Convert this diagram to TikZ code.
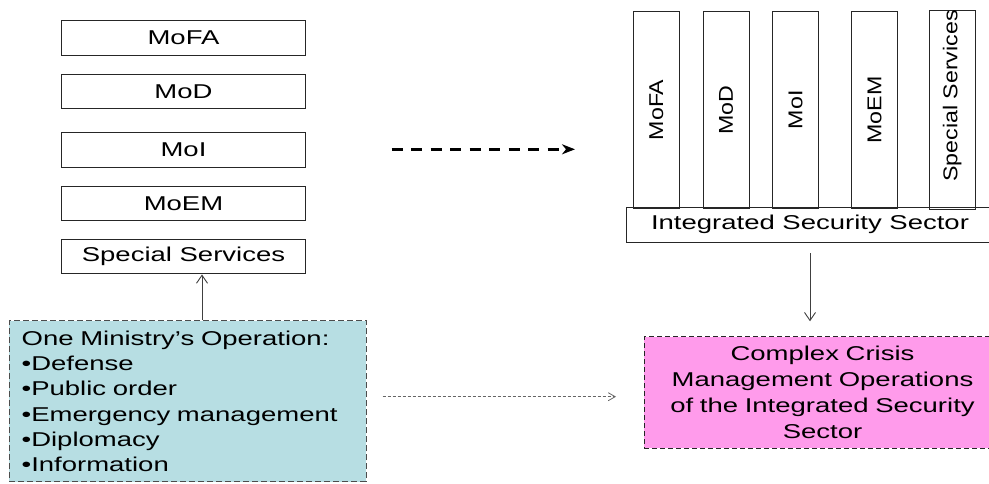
\documentclass[tikz,border=0pt]{standalone}
\usepackage{fontspec}
\setmainfont{Liberation Sans}[FakeStretch=1.375]
\newfontfamily\rotfont{Liberation Sans}[FakeStretch=1.16]
\usetikzlibrary{arrows.meta}
\definecolor{tealfill}{RGB}{183,222,227}
\definecolor{pinkfill}{RGB}{255,155,235}
\tikzset{
  minbox/.style={draw=black!85, line width=1pt, minimum width=243.5pt, minimum height=34.5pt, inner sep=0pt, font=\fontsize{20}{24}\selectfont},
  colbox/.style={draw=black!85, line width=1pt, rotate=90, minimum width=196.3pt, minimum height=46pt, inner sep=0pt, font=\rotfont\fontsize{20}{24}\selectfont},
  issbox/.style={draw=black!85, line width=1pt, minimum width=373.3pt, minimum height=35.3pt, inner sep=0pt, font=\fontsize{20}{24}\selectfont},
  tealbox/.style={draw=black!70, fill=tealfill, line width=1pt, dash pattern=on 6pt off 3pt, minimum width=356.7pt, minimum height=161pt, text width=332pt, inner xsep=12.3pt, inner ysep=0pt, align=left, font=\fontsize{20}{25.3}\selectfont},
  pinkbox/.style={draw=black!85, fill=pinkfill, line width=0.9pt, dash pattern=on 5pt off 3pt, minimum width=357pt, minimum height=111.6pt, text width=340pt, inner xsep=8pt, inner ysep=0pt, align=center, font=\fontsize{20}{25.8}\selectfont},
  thinarrow/.style={draw=black!75, line width=0.9pt, -{Straight Barb[length=8pt,width=11pt]}},
  bigdash/.style={draw=black, line width=2.7pt, dash pattern=on 11pt off 8.5pt, -{Stealth[length=13pt,width=10pt,inset=4pt]}},
  greydash/.style={draw=black!60, line width=0.8pt, dash pattern=on 3pt off 2pt, -{Straight Barb[length=7pt,width=8pt]}}
}
\begin{document}
\begin{tikzpicture}[x=1pt,y=-1pt]
\useasboundingbox (0,0) rectangle (989,483);
\clip (0,0) rectangle (989,483);
\fill[white] (0,0) rectangle (989,483);
% left stack
\node[minbox] (mofa) at (183.5,37.8) {MoFA};
\node[minbox] (mod) at (183.5,91.3) {MoD};
\node[minbox] (moi) at (183.5,149.8) {MoI};
\node[minbox] (moem) at (183.5,203.5) {MoEM};
\node[minbox] (ss) at (183.5,256.7) {Special Services};
% right columns
\node[colbox] (cmofa) at (656.3,109.85) {MoFA};
\node[colbox] (cmod) at (726,109.85) {MoD};
\node[colbox] (cmoi) at (795.5,109.85) {MoI};
\node[colbox] (cmoem) at (874.5,109.85) {MoEM};
\node[colbox] (css) at (952.2,109.85) {\hspace*{27.7pt}Special Services};
\node[issbox] (iss) at (813.35,224.65) {Integrated Security Sector\hspace*{6.7pt}};
% bottom boxes
\node[tealbox] (teal) at (187.65,401.2) {One Ministry’s Operation:\\ •Defense\\ •Public order\\ •Emergency management\\ •Diplomacy\\ •Information};
\node[pinkbox] (pink) at (822.5,392.5) {Complex Crisis\\ Management Operations\\ of the Integrated Security\\ Sector};
% connectors
\coordinate (a1) at (391.7,149.3);
\coordinate (a2) at (575,149.3);
\draw[bigdash] (a1) -- (a2);
\coordinate (b1) at (382.7,396.7);
\coordinate (b2) at (616,396.7);
\draw[greydash] (b1) -- (b2);
\draw[thinarrow] ([xshift=18.5pt]ss.south |- teal.north) -- ([xshift=18.5pt]ss.south);
\draw[thinarrow, shorten <=10.4pt, shorten >=15pt] ([xshift=-3.35pt]iss.south) -- ([xshift=-3.35pt]iss.south |- pink.north);
\end{tikzpicture}
\end{document}
